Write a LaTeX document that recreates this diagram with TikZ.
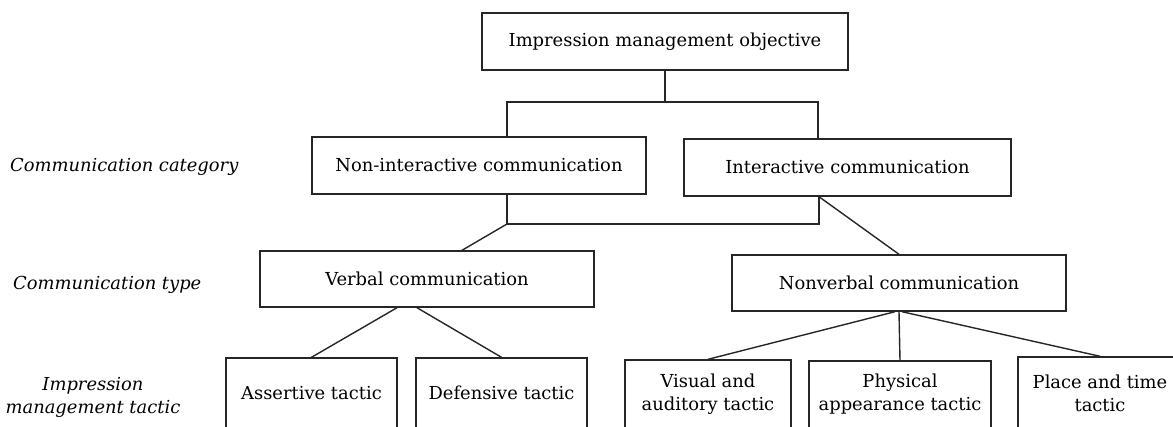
\documentclass[tikz,border=0pt]{standalone}
\usepackage{fontspec}
\setmainfont{DejaVu Serif}
\begin{document}
\begin{tikzpicture}[x=1pt,y=-1pt,
  box/.style={draw=black!85, line width=1.4pt, rectangle, inner sep=0pt, align=center,
    font=\fontsize{17.9}{23}\selectfont},
  conn/.style={draw=black!85, line width=1.4pt},
  lab/.style={font=\fontsize{17.9}{23}\selectfont\itshape, inner sep=0pt, align=center}]
\useasboundingbox (0,0) rectangle (1173,426);
\clip (0,0) rectangle (1173,426);
% boxes
\node[box, minimum width=366pt, minimum height=57pt] (top) at (665,41.5) {Impression management objective};
\node[box, minimum width=334pt, minimum height=57pt] (nonint) at (479,165.5) {Non-interactive communication};
\node[box, minimum width=327pt, minimum height=57pt] (inter) at (847.5,167.5) {Interactive communication};
\node[box, minimum width=334pt, minimum height=56pt] (verbal) at (427,279) {Verbal communication};
\node[box, minimum width=334pt, minimum height=56pt] (nonverbal) at (899,283) {Nonverbal communication};
\node[box, minimum width=171pt, minimum height=70pt] (assert) at (311.5,393) {Assertive tactic};
\node[box, minimum width=171pt, minimum height=70pt] (defens) at (501.5,393) {Defensive tactic};
\node[box, minimum width=166pt, minimum height=68pt] (visual) at (708,394) {Visual and\\auditory tactic};
\node[box, minimum width=182pt, minimum height=67pt] (phys) at (900,394.5) {Physical\\appearance tactic};
\node[box, minimum width=164pt, minimum height=72pt] (place) at (1100,393) {Place and time\\tactic};
% labels
\node[lab, anchor=west] (lcat) at (10,167) {Communication category};
\node[lab, anchor=west] (ltype) at (13,285) {Communication type};
\node[lab] (ltac) at (93,397) {Impression\\management tactic};
% junctions
\coordinate (a1) at (507,102);
\coordinate (a2) at (818,102);
\coordinate (b1) at (507,224);
\coordinate (b2) at (819,224);
% connectors
\draw[conn] (top.south) -- (top.south |- a1);
\draw[conn] (nonint.north -| a1) -- (a1) -- (a2) -- (inter.north -| a2);
\draw[conn] (nonint.south -| b1) -- (b1) -- (b2) -- (inter.south -| b2);
\draw[conn] (b1) -- ([xshift=35pt]verbal.north);
\draw[conn] (inter.south -| b2) -- (nonverbal.north);
\draw[conn] ([xshift=-30pt]verbal.south) -- (assert.north);
\draw[conn] ([xshift=-10pt]verbal.south) -- (defens.north);
\draw[conn] ([xshift=-4pt]nonverbal.south) -- (visual.north);
\draw[conn] (nonverbal.south) -- (phys.north);
\draw[conn] ([xshift=3pt]nonverbal.south) -- (place.north);
\end{tikzpicture}
\end{document}
